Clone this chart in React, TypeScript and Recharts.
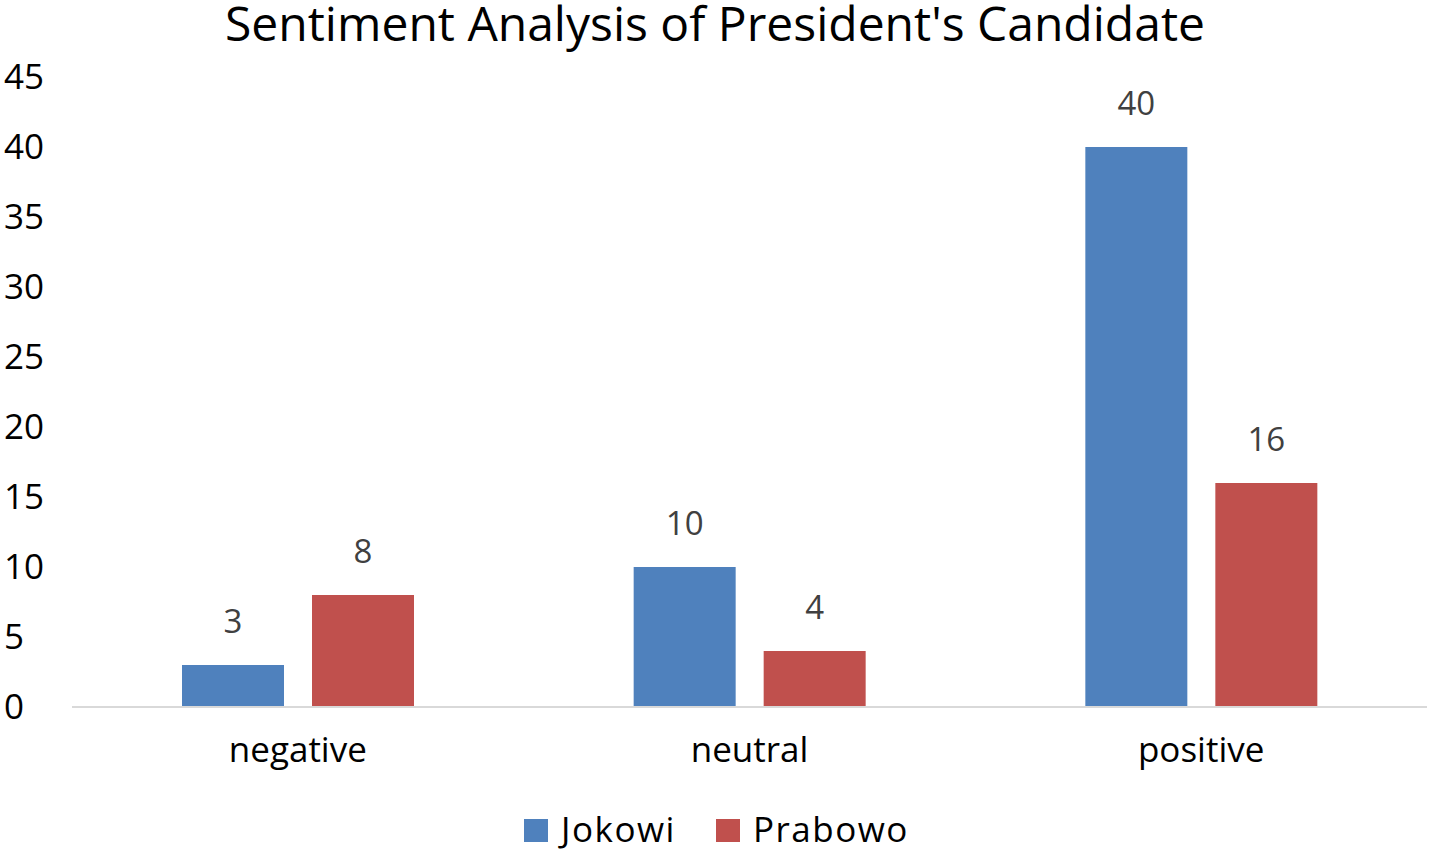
import React from 'react';
import { BarChart, Bar, XAxis, YAxis, Legend, LabelList } from 'recharts';

const categories = ['negative', 'neutral', 'positive'];
const jokowi = [3, 10, 40];
const prabowo = [8, 4, 16];
const yTicks = [0, 5, 10, 15, 20, 25, 30, 35, 40, 45];

const data = categories.map((name, i) => ({ name, Jokowi: jokowi[i], Prabowo: prabowo[i] }));

const FONT = '"Open Sans", sans-serif';
const BLUE = '#4F81BD';
const RED = '#C0504D';

const LegendBox = () => (
  <div style={{ height: 40, display: 'flex', justifyContent: 'center', alignItems: 'center', fontFamily: FONT, fontSize: 35, letterSpacing: 1.5, lineHeight: '40px', color: '#000', paddingLeft: 6 }}>
    {[['Jokowi', BLUE], ['Prabowo', RED]].map(([name, color], i) => (
      <div key={name} style={{ display: 'flex', alignItems: 'center', marginLeft: i ? 40 : 0 }}>
        <span style={{ width: 24, height: 23, background: color, display: 'inline-block', marginRight: 13, marginTop: 2 }} />
        <span>{name}</span>
      </div>
    ))}
  </div>
);

export default function App() {
  return (
    <div style={{ position: 'absolute', left: 0, top: 0, width: 1430, height: 849, background: '#fff', fontFamily: FONT, overflow: 'hidden' }}>
      <div style={{ position: 'absolute', top: 0, left: 0, width: 1430, textAlign: 'center', fontSize: 48, lineHeight: '46px', color: '#000' }}>
        Sentiment Analysis of President's Candidate
      </div>
      <BarChart width={1430} height={849} data={data} margin={{ top: 77, right: 3, left: 0, bottom: 0 }} barSize={102} barGap={28}>
        <XAxis
          dataKey="name"
          height={102}
          tickLine={false}
          axisLine={{ stroke: '#D9D9D9', strokeWidth: 2 }}
          tick={{ fontSize: 35, fill: '#000', fontFamily: FONT }}
          tickMargin={24}
        />
        <YAxis
          width={72}
          domain={[0, 45]}
          ticks={yTicks}
          axisLine={false}
          tickLine={false}
          interval={0}
          tick={{ fontSize: 35, fill: '#000', fontFamily: FONT, textAnchor: 'start', dx: -60 }}
        />
        <Legend verticalAlign="bottom" content={() => <LegendBox />} />
        <Bar dataKey="Jokowi" fill={BLUE} isAnimationActive={false}>
          <LabelList dataKey="Jokowi" position="top" offset={32} style={{ fontSize: 33, fill: '#404040', fontFamily: FONT }} />
        </Bar>
        <Bar dataKey="Prabowo" fill={RED} isAnimationActive={false}>
          <LabelList dataKey="Prabowo" position="top" offset={32} style={{ fontSize: 33, fill: '#404040', fontFamily: FONT }} />
        </Bar>
      </BarChart>
    </div>
  );
}
